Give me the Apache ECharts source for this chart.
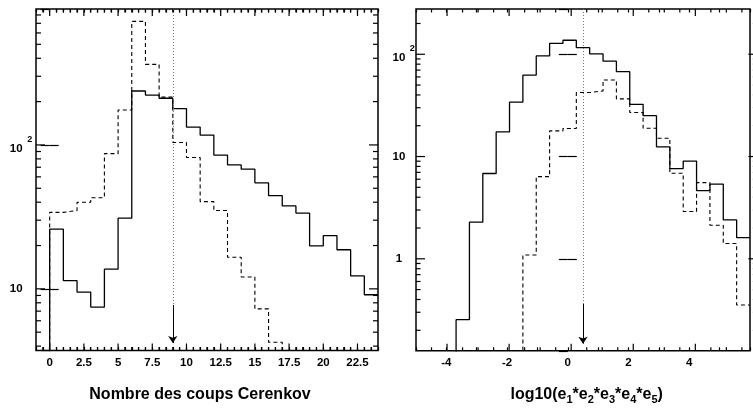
<!DOCTYPE html>
<html>
<head>
<meta charset="utf-8">
<script src="https://cdn.jsdelivr.net/npm/echarts@6/dist/echarts.min.js"></script>
<style>html,body{margin:0;padding:0;background:#fff;}#c{width:753px;height:409px;}</style>
</head>
<body>
<div id="c"></div>
<script>
// ---------- data ----------
// Left panel: "Nombre des coups Cerenkov", bins of width 1 starting at 0
const leftEdges = [0,1,2,3,4,5,6,7,8,9,10,11,12,13,14,15,16,17,18,19,20,21,22,23,24];
const leftSolid = [26.0, 11.4, 9.5, 7.47, 13.7, 31.0, 237, 222, 211, 179, 133, 117, 85, 72.6, 67.8, 54.5, 44.5, 37.7, 33.6, 19.9, 23.4, 18.7, 12.3, 9.1];
const leftDashed = [34.0, 35.0, 40, 43, 87, 175, 722, 363, 215, 104, 81.7, 40.4, 35.0, 16.6, 12.1, 7.26, 4.26, 0, 0, 0, 0, 0, 0, 0];
const leftXLabels = [0, 2.5, 5, 7.5, 10, 12.5, 15, 17.5, 20, 22.5];
const leftCut = 9;

// Right panel: log10(e1*e2*e3*e4*e5), 25 bins from -5 to 6
const rightEdges = [-5, -4.56, -4.12, -3.68, -3.24, -2.8, -2.36, -1.92, -1.48, -1.04, -0.6, -0.16, 0.28, 0.72, 1.16, 1.6, 2.04, 2.48, 2.92, 3.36, 3.8, 4.24, 4.68, 5.12, 5.56, 6];
const rightSolid = [0, 0, 0, 0.254, 2.28, 6.82, 17.4, 34.0, 62.4, 96.2, 128, 137, 116, 101, 85.5, 67.6, 32.4, 25.1, 12.4, 7.62, 9.02, 4.65, 5.37, 2.40, 1.61];
const rightDashed = [0, 0, 0, 0, 0, 0, 0, 0, 1.09, 6.36, 17.8, 18.8, 42.2, 43.8, 56.1, 36.6, 26.9, 18.9, 15.1, 6.87, 2.90, 5.56, 2.13, 1.41, 0.353];
const rightXLabels = [-4, -2, 0, 2, 4];
const rightCut = 0.5;

// tick values
const leftXMajor = [0, 2.5, 5, 7.5, 10, 12.5, 15, 17.5, 20, 22.5];
const leftXMinor = [-0.5,0.5,1,1.5,2,3,3.5,4,4.5,5.5,6,6.5,7,8,8.5,9,9.5,10.5,11,11.5,12,13,13.5,14,14.5,15.5,16,16.5,17,18,18.5,19,19.5,20.5,21,21.5,22,23,23.5];
const leftYMajor = [10, 100];
const leftYMinor = [4,5,6,7,8,9,20,30,40,50,60,70,80,90,200,300,400,500,600,700,800];
const rightXMajor = [-4, -2, 0, 2, 4];
const rightXMinor = [-4.5,-3.5,-3,-2.5,-1.5,-1,-0.5,0.5,1,1.5,2.5,3,3.5,4.5,5,5.5];
const rightYMajor = [1, 10, 100];
const rightYMinor = [0.2,0.3,0.4,0.5,0.6,0.7,0.8,0.9,2,3,4,5,6,7,8,9,20,30,40,50,60,70,80,90,200];

// axis ranges
const leftXRange = [-1, 24], leftYRange = [3.73, 880];
const rightXRange = [-5, 6], rightYRange = [0.126, 277];

// ---------- layout ----------
const leftGrid = { left: 36, top: 9, width: 342, height: 341.5 };
const rightGrid = { left: 416, top: 9, width: 341.4, height: 341.8 };

// ---------- helpers ----------
const FONT = "'Liberation Sans', Arial, Helvetica, sans-serif";
function stepPoints(edges, vals, floor) {
  const pts = [[edges[0], floor]];
  for (let i = 0; i < vals.length; i++) pts.push([edges[i], vals[i] > 0 ? vals[i] : floor]);
  const last = vals[vals.length - 1];
  pts.push([edges[vals.length], last > 0 ? last : floor]);
  return pts;
}
function yFormatter(v) {
  const l = Math.log10(v), r = Math.round(l);
  if (Math.abs(l - r) > 1e-6) return '';
  if (r === 0) return '{b|1}{sp| }';
  if (r === 1) return '{b|10}{sp| }';
  if (r === 2) return '{h| }{b2|10}{sup|2}';
  return '';
}
const yRich = {
  b: { fontSize: 11.5, fontWeight: 'bold', fontFamily: FONT, color: '#000', lineHeight: 14 },
  b2: { fontSize: 11.5, fontWeight: 'bold', fontFamily: FONT, color: '#000', lineHeight: 16, verticalAlign: 'bottom' },
  sup: { fontSize: 9, fontWeight: 'bold', fontFamily: FONT, color: '#000', lineHeight: 11, verticalAlign: 'top', width: 9.5, align: 'right' },
  sp: { width: 9.5, fontSize: 8 },
  h: { width: 0.01, lineHeight: 20, fontSize: 8 }
};
const xLabelStyle = { fontSize: 11.5, fontWeight: 'bold', fontFamily: FONT, color: '#000', margin: 6, interval: 0 };
const xTick = { show: true, inside: true, length: 3.5, interval: 0, lineStyle: { color: '#000', width: 1.2 } };
const yTick = { show: true, inside: true, length: 9, lineStyle: { color: '#000', width: 1.2 } };
function histSeries(gi, pts, dashed) {
  return {
    type: 'line', xAxisIndex: gi, yAxisIndex: gi, data: pts, step: 'end',
    showSymbol: false, symbol: 'none', clip: true, silent: true, animation: false,
    lineStyle: dashed ? { color: '#000', width: 1.1, type: [4, 3] } : { color: '#000', width: 1.3 }
  };
}
function cutSeries(gi, x, top, mid, bot) {
  return {
    type: 'line', xAxisIndex: gi, yAxisIndex: gi, data: [[x, mid]], showSymbol: false, symbol: 'none',
    lineStyle: { width: 0 }, silent: true, animation: false,
    markLine: {
      silent: true, animation: false, label: { show: false }, symbolSize: 7,
      data: [
        [ { coord: [x, top], symbol: 'none', lineStyle: { color: '#777', width: 1, type: [1, 2] } },
          { coord: [x, mid], symbol: 'none' } ],
        [ { coord: [x, mid], symbol: 'none', lineStyle: { color: '#000', width: 1, type: 'solid' } },
          { coord: [x, bot], symbol: 'arrow' } ]
      ]
    }
  };
}
// Inward tick marks on all four sides of a frame, as graphic lines placed with
// the same linear / log10 mapping that the panel's axes use.
function tickGraphics(xMaj, xMin, yMaj, yMin, xr, yr, g, yMinorLen) {
  const xPx = v => g.left + (v - xr[0]) / (xr[1] - xr[0]) * g.width;
  const yPx = v => g.top + g.height - Math.log10(v / yr[0]) / Math.log10(yr[1] / yr[0]) * g.height;
  const bottom = g.top + g.height, top = g.top, left = g.left, right = g.left + g.width;
  const out = [];
  const ln = (x1, y1, x2, y2) => out.push({ type: 'line', silent: true, z: 100,
    shape: { x1: x1, y1: y1, x2: x2, y2: y2 }, style: { stroke: '#000', lineWidth: 1.2 } });
  const xt = (v, len) => { const x = xPx(v); ln(x, bottom, x, bottom - len); ln(x, top, x, top + len); };
  const yt = (v, len) => { const y = yPx(v); ln(left, y, left + len, y); ln(right, y, right - len, y); };
  xMaj.forEach(v => xt(v, 7));
  xMin.forEach(v => xt(v, 3.5));
  yMaj.forEach(v => yt(v, 9));
  yMin.forEach(v => yt(v, yMinorLen));
  return out;
}
function mirrorX(gi, r, iv) {
  return { gridIndex: gi, type: 'value', position: 'top', min: r[0], max: r[1], interval: iv,
           axisLine: { show: false }, axisTick: xTick, axisLabel: { show: false }, splitLine: { show: false } };
}
function mirrorY(gi, r) {
  return { gridIndex: gi, type: 'log', position: 'right', min: r[0], max: r[1], logBase: 10,
           axisLine: { show: false }, axisTick: yTick, axisLabel: { show: false }, splitLine: { show: false } };
}

const chart = echarts.init(document.getElementById('c'), null, { renderer: 'canvas' });
chart.setOption({
  animation: false,
  backgroundColor: '#fff',
  grid: [
    Object.assign({ show: true, borderColor: '#000', borderWidth: 1.5, backgroundColor: 'transparent' }, leftGrid),
    Object.assign({ show: true, borderColor: '#000', borderWidth: 1.5, backgroundColor: 'transparent' }, rightGrid)
  ],
  xAxis: [
    { gridIndex: 0, type: 'value', position: 'bottom', min: leftXRange[0], max: leftXRange[1], interval: 0.5,
      axisLine: { show: false }, axisTick: xTick, splitLine: { show: false },
      axisLabel: Object.assign({}, xLabelStyle, { formatter: v => leftXLabels.some(t => Math.abs(t - v) < 1e-6) ? String(v) : '' }) },
    { gridIndex: 1, type: 'value', position: 'bottom', min: rightXRange[0], max: rightXRange[1], interval: 1,
      axisLine: { show: false }, axisTick: xTick, splitLine: { show: false },
      axisLabel: Object.assign({}, xLabelStyle, { formatter: v => rightXLabels.some(t => Math.abs(t - v) < 1e-6) ? String(v) : '' }) },
    mirrorX(0, leftXRange, 0.5),
    mirrorX(1, rightXRange, 1)
  ],
  yAxis: [
    { gridIndex: 0, type: 'log', position: 'left', min: leftYRange[0], max: leftYRange[1], logBase: 10,
      axisLine: { show: false }, axisTick: yTick, splitLine: { show: false }, minorTick: { show: false },
      axisLabel: { formatter: yFormatter, rich: yRich, align: 'center', margin: 15, showMinLabel: false, showMaxLabel: false } },
    { gridIndex: 1, type: 'log', position: 'left', min: rightYRange[0], max: rightYRange[1], logBase: 10,
      axisLine: { show: false }, axisTick: yTick, splitLine: { show: false }, minorTick: { show: false },
      axisLabel: { formatter: yFormatter, rich: yRich, align: 'center', margin: 12.3, showMinLabel: false, showMaxLabel: false } },
    mirrorY(0, leftYRange),
    mirrorY(1, rightYRange)
  ],
  series: [
    histSeries(0, stepPoints(leftEdges, leftDashed, 0.001), true),
    histSeries(0, stepPoints(leftEdges, leftSolid, 0.001), false),
    histSeries(1, stepPoints(rightEdges, rightDashed, 0.001), true),
    histSeries(1, stepPoints(rightEdges, rightSolid, 0.001), false),
    cutSeries(0, leftCut, leftYRange[1], 7.73, 4.2),
    cutSeries(1, rightCut, rightYRange[1], 0.361, 0.148)
  ],
  graphic: [
    { type: 'text', silent: true, x: 200, y: 395,
      style: { text: 'Nombre des coups Cerenkov', x: 0, y: 0, align: 'center', verticalAlign: 'middle',
               font: 'bold 16px ' + FONT, fill: '#000' } },
    { type: 'text', silent: true, x: 586.7, y: 396,
      style: { text: '{b|log10(e}{s|1}{b|*e}{s|2}{b|*e}{s|3}{b|*e}{s|4}{b|*e}{s|5}{b|)}',
               x: 0, y: 0, align: 'center', verticalAlign: 'middle',
               rich: {
                 b: { fontSize: 16, fontWeight: 'bold', fontFamily: FONT, fill: '#000', lineHeight: 18, verticalAlign: 'top' },
                 s: { fontSize: 11, fontWeight: 'bold', fontFamily: FONT, fill: '#000', lineHeight: 11, verticalAlign: 'bottom' }
               } } }
  ].concat(
    tickGraphics(leftXMajor, leftXMinor, leftYMajor, leftYMinor, leftXRange, leftYRange, leftGrid, 5),
    tickGraphics(rightXMajor, rightXMinor, rightYMajor, rightYMinor, rightXRange, rightYRange, rightGrid, 4.5)
  )
});
</script>
</body>
</html>
